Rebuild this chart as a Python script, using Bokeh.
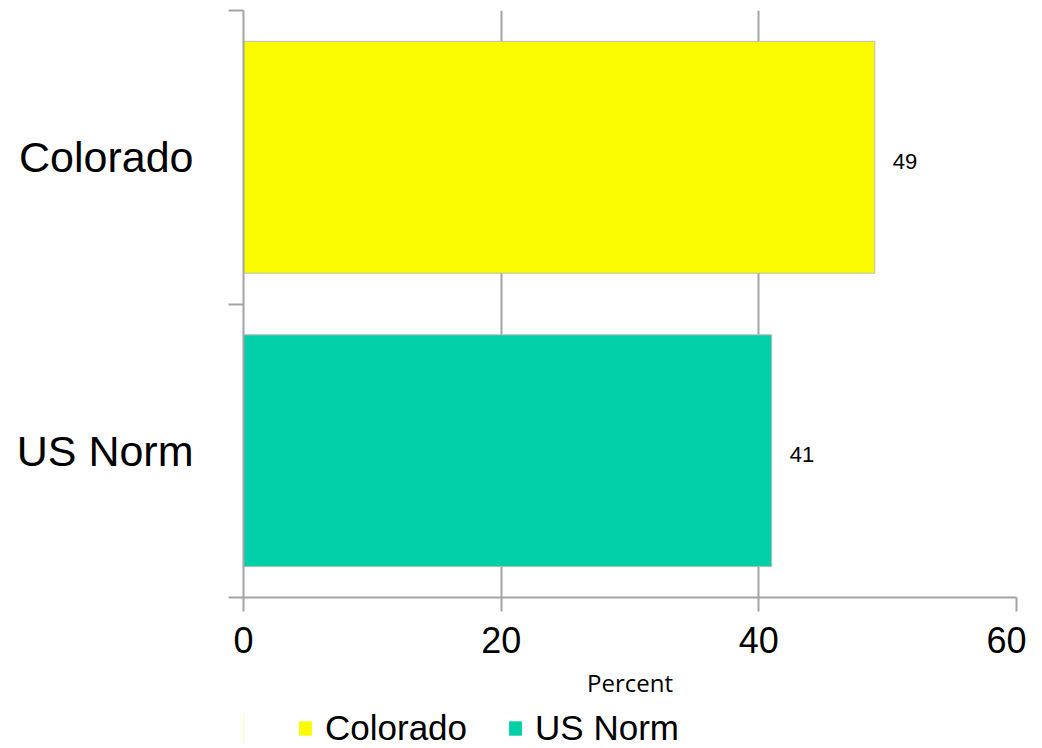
import numpy as np
from bokeh.plotting import figure
from bokeh.layouts import column
from bokeh.models import ColumnDataSource, Range1d, FixedTicker, LabelSet, LinearAxis
from bokeh.core.properties import value
from bokeh.embed import file_html
from bokeh.resources import INLINE

categories = ["Colorado", "US Norm"]
values = [49, 41]
colors = ["#FAFA00", "#00CFA8"]
x_ticks = [0, 20, 40, 60]
x_label = "Percent"

FONT = "Liberation Sans"
GRAY = "#a3a3a3"
EDGE = "#bdbdbd"

ypos = np.arange(len(categories)) + 0.5
src = ColumnDataSource(dict(
    y=ypos, value=values, category=categories, color=colors,
    label=[str(v) for v in values],
))

# ---------------- main chart ----------------
p = figure(width=1026, height=708, output_backend="svg", toolbar_location=None,
           x_range=Range1d(0, 60), y_range=Range1d(len(categories), 0),
           min_border_left=243, min_border_right=10, min_border_top=10,
           min_border_bottom=111)
p.outline_line_color = None
p.background_fill_color = "white"

p.hbar(y="y", left=0, right="value", height=0.79, fill_color="color",
       line_color=EDGE, line_width=1, source=src)

# x axis
p.xaxis.ticker = FixedTicker(ticks=x_ticks)
p.xaxis.axis_line_color = GRAY
p.xaxis.axis_line_width = 2
p.xaxis.major_tick_line_color = GRAY
p.xaxis.major_tick_line_width = 2
p.xaxis.major_tick_out = 14
p.xaxis.major_tick_in = 0
p.xaxis.minor_tick_line_color = None
p.xaxis.major_label_text_font = FONT
p.xaxis.major_label_text_font_size = "36px"
p.xaxis.major_label_text_color = "black"
p.xaxis.major_label_standoff = 15
p.xaxis.axis_label = x_label
p.xaxis.axis_label_text_font = "Open Sans"
p.xaxis.axis_label_text_font_size = "24px"
p.xaxis.axis_label_text_font_style = "normal"
p.xaxis.axis_label_text_color = "black"
p.xaxis.axis_label_standoff = 10

# y axis: tick marks at category boundaries
yax = p.yaxis[0]
yax.ticker = FixedTicker(ticks=list(range(len(categories) + 1)))
yax.major_label_overrides = {i: "" for i in range(len(categories) + 1)}
yax.major_label_standoff = 0
yax.axis_line_color = GRAY
yax.axis_line_width = 2
yax.major_tick_line_color = GRAY
yax.major_tick_line_width = 2
yax.major_tick_out = 15
yax.major_tick_in = 0
yax.minor_tick_line_color = None

# category-name axis
cat_axis = LinearAxis(
    ticker=FixedTicker(ticks=[float(v) for v in ypos]),
    major_label_overrides={float(v): c for v, c in zip(ypos, categories)},
    axis_line_color=None, major_tick_line_color=None, minor_tick_line_color=None,
    major_tick_out=0, major_tick_in=0, major_label_standoff=35,
    major_label_text_font=FONT, major_label_text_font_size="43px",
    major_label_text_color="black",
)
p.add_layout(cat_axis, "left")

p.xgrid.ticker = FixedTicker(ticks=x_ticks[1:])
p.xgrid.grid_line_color = GRAY
p.xgrid.grid_line_width = 2
p.ygrid.grid_line_color = None

# value labels
val_labels = LabelSet(x="value", y="y", text="label", source=src,
                      x_offset=18, y_offset=-4, text_align="left",
                      text_baseline="middle", text_font=value(FONT),
                      text_font_size="22px", text_color="black")
p.add_layout(val_labels)

# ---------------- legend strip ----------------
# bars of this strip lie outside its x range; only the legend shows
p2 = figure(width=1026, height=40, output_backend="svg", toolbar_location=None,
            x_range=Range1d(100, 200), y_range=Range1d(0, 1),
            x_axis_type=None, y_axis_type=None,
            min_border_left=0, min_border_right=0, min_border_top=0,
            min_border_bottom=0)
p2.outline_line_color = None
p2.grid.visible = False
p2.hbar(y="y", left=0, right="value", height=0.79, fill_color="color",
        line_color=None, legend_field="category", source=src)

lg = p2.legend[0]
lg.orientation = "horizontal"
lg.location = (54, 0)
lg.label_text_font = FONT
lg.label_text_font_size = "35px"
lg.label_text_color = "black"
lg.glyph_width = 16
lg.glyph_height = 18
lg.label_standoff = 12
lg.spacing = 40
lg.padding = 0
lg.margin = 0
lg.border_line_color = None
lg.background_fill_alpha = 0

layout = column(p, p2, spacing=0)
open("out.html", "w").write(file_html(layout, INLINE))
